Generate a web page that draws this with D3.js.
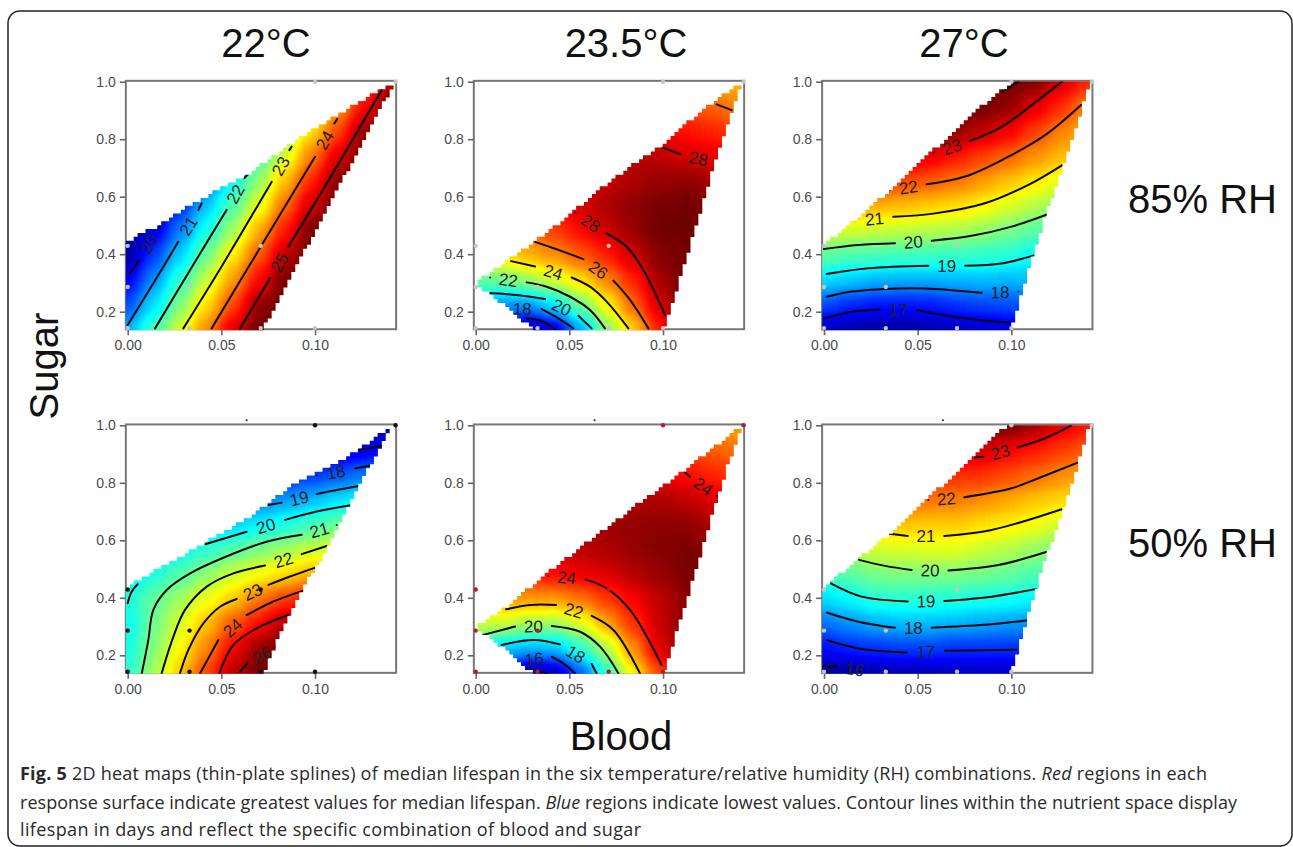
<!DOCTYPE html>
<html>
<head>
<meta charset="utf-8">
<script src="https://cdn.jsdelivr.net/npm/d3@7"></script>
<style>
  html, body { margin: 0; padding: 0; background: #fff; }
  svg { display: block; }
</style>
</head>
<body>
<div id="chart"></div>
<script>
// Axis ticks and the nodes of the value grid behind each heat map
const bloodTicks = [0, 0.05, 0.10];
const sugarTicks = [0.2, 0.4, 0.6, 0.8, 1.0];
const gridBlood = [0, 0.014, 0.028, 0.042, 0.056, 0.07, 0.084, 0.098, 0.112, 0.126, 0.14];
const gridSugar = [0.14, 0.226, 0.312, 0.398, 0.484, 0.57, 0.656, 0.742, 0.828, 0.914, 1.0];

const tempLabels = ['22°C', '23.5°C', '27°C'];
const humidityLabels = ['85% RH', '50% RH'];

// Diet treatments (blood, sugar)
const sampleBlood = [0, 0, 0, 0.033, 0.033, 0.071, 0.071, 0.1, 0.1, 0.143];
const sampleSugar = [0.143, 0.286, 0.429, 0.286, 0.143, 0.429, 0.143, 0.143, 1, 1];

// Colour range (days) of each panel
const range22_85 = [19.4, 25.4];
const range23_85 = [14.9, 29.3];
const range27_85 = [16.3, 23.7];
const range22_50 = [16.2, 26.3];
const range23_50 = [14.3, 25.6];
const range27_50 = [15.8, 24.0];

// Outline of the nutrient space in each panel
const hull22_85 = [[0,.139],[0,.44],[.0039,.464],[.0155,.496],[.0315,.565],[.0422,.602],[.0635,.675],[.0902,.797],[.1116,.884],[.1425,1],[.072,.139]];
const hull23_85 = [[0,.299],[.0183,.386],[.0326,.449],[.0521,.548],[.0735,.664],[.0984,.774],[.1197,.896],[.142,.997],[.1349,.867],[.1269,.704],[.118,.507],[.1082,.299],[.1002,.139],[.0308,.139],[.0139,.229]];
const hull27_85 = [[0,.139],[0,.432],[.0165,.519],[.0343,.617],[.0504,.722],[.0681,.815],[.0859,.925],[.102,1.003],[.142,1.003],[.1358,.867],[.1269,.693],[.118,.531],[.1091,.345],[.102,.183],[.0998,.139]];
const hull22_50 = [[0,.137],[0,.439],[.0101,.479],[.0315,.555],[.0422,.595],[.0653,.682],[.0884,.792],[.1044,.845],[.1222,.908],[.1409,.998],[.1222,.775],[.1062,.566],[.0938,.439],[.0813,.277],[.0724,.137]];
const hull23_50 = [[0,.297],[.0165,.369],[.0379,.485],[.061,.601],[.0859,.723],[.1091,.833],[.142,.998],[.1349,.868],[.1269,.706],[.118,.508],[.1082,.3],[.1002,.137],[.0308,.137],[.013,.236]];
const hull27_50 = [[0,.137],[0,.433],[.0174,.532],[.0343,.619],[.0504,.723],[.0681,.816],[.0859,.932],[.0984,1.003],[.1415,1.003],[.1358,.868],[.1269,.694],[.118,.532],[.1091,.346],[.102,.184],[.0998,.137]];

// Median lifespan, one row per gridSugar value
const surface22_85 = [
  [21.1,22.0,22.9,23.8,24.8,25.7,26,26,26,26,26],
  [20.5,21.4,22.4,23.3,24.2,25.2,26,26,26,26,26],
  [20.0,20.9,21.9,22.8,23.7,24.6,25.6,26,26,26,26],
  [19.5,20.4,21.3,22.3,23.2,24.1,25.0,26,26,26,26],
  [18.9,19.9,20.8,21.7,22.6,23.6,24.5,25.4,26,26,26],
  [18.4,19.3,20.3,21.2,22.1,23.0,24.0,24.9,25.8,26,26],
  [17.9,18.8,19.8,20.7,21.6,22.5,23.5,24.4,25.3,26,26],
  [17.4,18.3,19.2,20.2,21.1,22.0,22.9,23.9,24.8,25.7,26],
  [16.8,17.8,18.7,19.6,20.5,21.5,22.4,23.3,24.2,25.2,26],
  [16.3,17.2,18.2,19.1,20.0,20.9,21.9,22.8,23.7,24.6,25.6],
  [15.8,16.7,17.6,18.6,19.5,20.4,21.3,22.3,23.2,24.1,25.0]
];
const surface23_85 = [
  [19,17,15,15.9,18.8,22.2,24.5,27.1,29,29.5,29.5],
  [20,18.5,18.6,19.8,21.9,23.9,26,28,29.3,29.5,29.5],
  [21.5,21.9,22.5,23.3,24.3,25.6,27,28.6,29.5,29.5,29.5],
  [23.2,24.3,24.9,25.4,26.2,27,28.1,29,29.4,29.5,29.5],
  [24.5,25.2,25.9,26.6,27.3,28.1,28.8,29.3,29.5,29.3,29],
  [26,26.5,27,27.5,28,28.5,28.9,29.2,29.3,29,28.8],
  [26.5,26.7,27,27.3,27.8,28.2,28.5,28.8,28.9,28.7,28.4],
  [26.5,26.8,27,27.3,27.6,28,28.4,28.3,28,27.7,27.4],
  [26.5,26.7,27,27.2,27.4,27.6,27.8,27.6,27.2,27,26.6],
  [26,26.2,26.4,26.5,26.6,26.7,26.8,26.6,26.3,26.1,25.6],
  [25,25,25,25,25,25.2,25.4,25.4,25.2,25.1,24.9]
];
const surface27_85 = [
  [16.6,16.5,16.4,16.4,16.5,16.6,16.7,16.8,17,17.2,17.4],
  [17.65,17.4,17.25,17.25,17.3,17.5,17.6,17.7,17.8,18,18.2],
  [18.75,18.6,18.45,18.4,18.4,18.45,18.5,18.45,18.5,18.6,18.7],
  [19.75,19.6,19.55,19.5,19.45,19.42,19.37,19.25,19.03,18.9,18.8],
  [20.6,20.6,20.5,20.45,20.4,20.3,20.15,19.95,19.7,19.5,19.3],
  [21.6,21.55,21.45,21.38,21.27,21.14,20.95,20.65,20.4,20.13,19.9],
  [23,22.8,22.5,22.25,22.1,21.9,21.65,21.35,21.05,20.7,20.5],
  [23.7,23.5,23.3,23.1,22.9,22.6,22.3,22.05,21.7,21.4,21.2],
  [24.5,24.4,24.2,24,23.7,23.5,23.15,22.8,22.3,21.8,21.4],
  [24.5,24.5,24.5,24.5,24.4,24.2,23.9,23.5,22.95,22.45,21.8],
  [24.5,24.5,24.5,24.5,24.5,24.5,24.5,24.2,23.6,23.05,22.5]
];
const surface22_50 = [
  [20.3,21.6,23,24.3,25.65,26.5,26.5,26.5,26.5,26.5,26.5],
  [20.1,21.3,22.5,23.7,25.05,26,26.5,26.5,26.5,26.5,26.5],
  [19.9,21.1,22.05,23.1,24.15,24.9,25.7,26.2,26.5,26.5,26.5],
  [20.15,20.9,21.6,22.3,22.95,23.85,24.4,24.9,25.4,25.8,26],
  [19.6,20.2,20.8,21.4,22,22.4,22.8,23.2,23.5,23.9,24.2],
  [19,19.4,19.85,20.35,20.8,21.2,21.6,21.95,22.3,22.6,22.9],
  [18.3,18.5,18.75,19,19.4,19.75,20.15,20.6,21,21.4,21.8],
  [17.4,17.6,17.8,18,18.2,18.5,18.85,19.15,19.55,19.9,20.3],
  [16.4,16.5,16.6,16.8,17,17.3,17.6,17.9,18.2,18.55,18.85],
  [16.2,16.2,16.2,16.2,16.2,16.2,16.4,16.6,16.8,17.1,17.35],
  [16,16,16,16,16,16,16,16,16.2,16.4,16.6]
];
const surface23_50 = [
  [18,16,14,14.7,16.5,18.9,21.4,23.4,25,25.5,25.5],
  [19,17.8,17.6,17.7,18.9,20.5,22.6,24.5,25.3,25.5,25.5],
  [20.7,20.8,20.35,20.3,20.95,22.3,23.6,24.7,25.4,25.6,25.5],
  [22.2,22.4,22.4,22.4,22.85,23.5,24.2,24.8,25.3,25.6,25.5],
  [23,23.5,23.8,24.1,24.3,24.5,24.9,25.2,25.5,25.6,25.4],
  [23.7,24,24.3,24.6,24.8,25,25.2,25.4,25.5,25.3,25],
  [24.3,24.5,24.7,24.9,25,25.1,25.2,25.3,25.3,25,24.7],
  [24.4,24.5,24.6,24.7,24.8,24.9,24.9,25,24.8,24.5,24.2],
  [24.4,24.4,24.4,24.4,24.4,24.5,24.5,24.4,24.05,23.8,23.5],
  [23.8,23.8,23.8,23.8,23.8,23.8,23.8,23.6,23.4,23.1,22.9],
  [22.6,22.6,22.6,22.6,22.6,22.6,22.6,22.6,22.5,22.4,22.3]
];
const surface27_50 = [
  [15.6,15.85,16,16.1,16.1,16.2,16.2,16.2,16.3,16.4,16.5],
  [16.75,17,17.1,17.18,17.2,17.1,17.1,17.08,17.05,17,17],
  [17.6,17.9,18.1,18.2,18.2,18.15,18.05,17.95,17.9,17.8,17.7],
  [18.5,18.75,19.1,19.15,19.1,19.05,18.95,18.9,18.7,18.6,18.5],
  [19.3,19.6,19.85,19.9,19.9,19.9,19.8,19.65,19.45,19.2,19],
  [20.2,20.35,20.55,20.6,20.65,20.65,20.5,20.35,20.1,19.9,19.7],
  [21.2,21.3,21.35,21.35,21.3,21.3,21.15,21,20.8,20.55,20.3],
  [22.1,22.2,22.2,22.1,22,21.95,21.8,21.6,21.35,21.2,20.9],
  [23,23,22.9,22.8,22.7,22.6,22.55,22.35,22.1,21.8,21.6],
  [23.8,23.8,23.8,23.7,23.6,23.4,23.25,22.95,22.75,22.5,22.2],
  [24.2,24.2,24.2,24.2,24.2,24.2,24.2,24,23.6,23.1,22.8]
];

// Contours: [level, part before the label, part after the label].
// A contour with one part carries no label.
const contours22_85 = [
  [20, [[.0012,.333],[.0062,.38]], [[.0164,.49],[.0173,.496]]],
  [21, [[0,.154],[.0137,.299],[.027,.443]], [[.0377,.554],[.0395,.577]]],
  [22, [[.0146,.142],[.0333,.345],[.0528,.554]], [[.0621,.664],[.0644,.679]]],
  [23, [[.0297,.142],[.0511,.368],[.0769,.652]], [[.0863,.762],[.0875,.774]]],
  [24, [[.0448,.142],[.0689,.403],[.1,.739]], [[.1103,.855],[.1119,.87]]],
  [25, [[.06,.142],[.076,.316]], [[.0858,.426],[.1116,.704],[.1356,.971]]]
];
const contours23_85 = [
  [16, [[.0272,.177],[.0361,.165],[.0423,.139]]],
  [18, [[.0145,.212]], [[.0352,.209],[.0441,.177],[.0521,.142]]],
  [20, [[.005,.266],[.0219,.258],[.037,.244]], [[.0548,.186],[.0619,.142]]],
  [22, [[.0077,.319]], [[.0272,.302],[.0379,.287],[.0504,.252],[.061,.206],[.069,.142]]],
  [24, [[.0189,.376],[.0317,.357]], [[.0512,.319],[.061,.287],[.0699,.235],[.0815,.142]]],
  [26, [[.0317,.443],[.0432,.417],[.0575,.383]], [[.0735,.308],[.0824,.241],[.0922,.142]]],
  [28, [[.053,.544]], [[.0699,.472],[.0806,.426],[.0895,.345],[.1011,.188]]],
  [28, [[.0993,.772],[.1091,.748]], [[.1286,.718]]],
  [26, [[.1286,.921],[.1367,.901]]]
];
const contours27_85 = [
  [17, [[0,.177],[.0148,.2],[.0299,.208]], [[.0495,.206],[.0681,.183],[.0859,.169],[.0993,.162]]],
  [18, [[.0014,.252],[.0148,.27],[.0397,.281],[.0539,.281],[.0681,.275],[.0842,.266]], [[.1037,.27]]],
  [19, [[.0014,.331],[.0237,.351],[.0557,.36]], [[.0753,.36],[.0948,.368],[.1117,.395]]],
  [20, [[0,.418],[.0183,.432],[.0379,.438]], [[.0575,.447],[.0788,.464],[.1002,.496],[.1194,.539]]],
  [21, [[.0169,.517]], [[.037,.53],[.0593,.542],[.0859,.577],[.1091,.641],[.1272,.71]]],
  [22, [[.0352,.623]], [[.0548,.643],[.0753,.67],[.0966,.733],[.118,.814],[.1372,.919]]],
  [23, [[.0587,.754]], [[.0779,.794],[.0948,.843],[.1144,.936],[.1269,1.0]]],
  [24, [[.0952,.965],[.1037,1.0]]]
];
const contours22_50 = [
  [17, [[.1222,.914],[.1356,.928]]],
  [18, [[.1009,.825]], [[.1214,.85],[.1294,.86]]],
  [19, [[.0751,.723],[.0822,.731]], [[.1009,.761],[.1116,.775],[.124,.79]]],
  [20, [[.0413,.586],[.0635,.63]], [[.084,.671],[.1009,.70],[.1183,.721]]],
  [20, [[0,.381],[.0021,.421],[.0053,.447]]],
  [21, [[.0075,.137],[.011,.253],[.0137,.358],[.0208,.427],[.0333,.485],[.0546,.549],[.0742,.595],[.0929,.619]], [[.1116,.653]]],
  [22, [[.0181,.137],[.0244,.265],[.0306,.358],[.0422,.439],[.0564,.485],[.0733,.512]], [[.0929,.552],[.1062,.58]]],
  [23, [[.0279,.137],[.0324,.219],[.0404,.311],[.0493,.369],[.0582,.396]], [[.0751,.445],[.0867,.474],[.1005,.506]]],
  [24, [[.0386,.137],[.0484,.253]], [[.0635,.34],[.0778,.387],[.0938,.425]]],
  [25, [[.0489,.137],[.0564,.236],[.0689,.294],[.0858,.34]]],
  [26, [[.06,.143],[.0639,.172]], [[.0792,.23]]]
];
const contours23_50 = [
  [14, [[.0308,.149],[.0379,.137]]],
  [16, [[.0219,.18]], [[.0406,.195],[.0468,.172],[.053,.137]]],
  [18, [[.0139,.236],[.0308,.253],[.045,.238]], [[.0619,.17],[.0646,.137]]],
  [20, [[.0041,.271],[.021,.30]], [[.0406,.302],[.0557,.282],[.0664,.23],[.0762,.137]]],
  [22, [[.0162,.36],[.029,.375],[.0429,.375]], [[.0619,.337],[.0735,.288],[.0877,.137]]],
  [24, [[.0388,.477]], [[.0584,.464],[.0699,.433],[.0824,.358],[.0993,.166]]],
  [24, [[.1112,.839],[.1144,.821]], [[.1286,.754]]]
];
const contours27_50 = [
  [16, [[0,.161],[.0068,.161]], [[.0258,.143]]],
  [17, [[.0014,.253],[.0183,.224],[.0441,.21]], [[.0646,.216],[.1028,.219]]],
  [18, [[.0014,.349],[.0183,.317],[.0379,.296]], [[.0575,.296],[.0859,.306],[.1082,.321]]],
  [19, [[.0036,.45],[.0201,.404],[.0447,.387]], [[.0642,.389],[.0895,.404],[.1135,.431]]],
  [20, [[.0187,.532],[.0326,.511],[.0468,.497]], [[.0664,.495],[.0931,.514],[.1194,.561]]],
  [21, [[.0343,.624],[.0447,.615]], [[.0642,.615],[.0895,.636],[.1269,.708]]],
  [22, [[.0557,.74]], [[.0749,.75],[.1002,.781],[.1144,.816],[.1354,.87]]],
  [23, [[.0806,.888],[.0851,.891]], [[.1032,.923],[.118,.955],[.1319,.999]]]
];

const captionLines = [
  [['Fig. 5', 'bold'], [' 2D heat maps (thin-plate splines) of median lifespan in the six temperature/relative humidity (RH) combinations. ', ''], ['Red', 'italic'], [' regions in each', '']],
  [['response surface indicate greatest values for median lifespan. ', ''], ['Blue', 'italic'], [' regions indicate lowest values. Contour lines within the nutrient space display', '']],
  [['lifespan in days and reflect the specific combination of blood and sugar', '']]
];
const captionWidths = [1187, 1217, 621];

const width = 1293;
const height = 847;
const colOrigin = [127.7, 475.7, 824];
const rowTop = [81.7, 425.3];
const pxPerBlood = 1873.3;
const pxPerSugar = 287.5;

const panels = [
  { col: 0, row: 0, range: range22_85, hull: hull22_85, surface: surface22_85, contours: contours22_85, dot: '#c4c4c4' },
  { col: 1, row: 0, range: range23_85, hull: hull23_85, surface: surface23_85, contours: contours23_85, dot: '#c4c4c4' },
  { col: 2, row: 0, range: range27_85, hull: hull27_85, surface: surface27_85, contours: contours27_85, dot: '#c4c4c4' },
  { col: 0, row: 1, range: range22_50, hull: hull22_50, surface: surface22_50, contours: contours22_50, dot: '#111' },
  { col: 1, row: 1, range: range23_50, hull: hull23_50, surface: surface23_50, contours: contours23_50, dot: '#b02020' },
  { col: 2, row: 1, range: range27_50, hull: hull27_50, surface: surface27_50, contours: contours27_50, dot: '#c4c4c4' }
];

const jetStops = [0, 0.11, 0.36, 0.5, 0.62, 0.87, 1];
const jetColors = ['#000090', '#0000ff', '#00ffff', '#7fff7f', '#ffff00', '#ff0000', '#700000'];
const jet = d3.scaleLinear().domain(jetStops).range(jetColors);

const svg = d3.select('#chart').append('svg')
  .attr('width', width)
  .attr('height', height);

svg.append('rect')
  .attr('x', 8).attr('y', 11)
  .attr('width', 1284).attr('height', 835)
  .attr('rx', 12)
  .attr('fill', '#fff')
  .attr('stroke', '#222')
  .attr('stroke-width', 1.5);

const defs = svg.append('defs');

// Cells are drawn as grey levels, smoothed, then mapped to the colour ramp,
// so the smoothing happens on the values and not on the colours
const smooth = defs.append('filter')
  .attr('id', 'smooth')
  .attr('filterUnits', 'userSpaceOnUse')
  .attr('x', 0).attr('y', 0)
  .attr('width', width).attr('height', height)
  .attr('color-interpolation-filters', 'sRGB');
smooth.append('feGaussianBlur').attr('stdDeviation', 8);
const ramp = d3.range(0, 129).map(i => d3.rgb(jet(i / 128)));
const transfer = smooth.append('feComponentTransfer');
[['feFuncR', 'r'], ['feFuncG', 'g'], ['feFuncB', 'b']].forEach(([fn, ch]) => {
  transfer.append(fn)
    .attr('type', 'table')
    .attr('tableValues', ramp.map(c => (c[ch] / 255).toFixed(3)).join(' '));
});

const line = d3.line().curve(d3.curveCatmullRom);

panels.forEach((p, idx) => drawPanel(p, idx));

// Outline of the nutrient space as blocks, the way the image plot shows it
function stairPath(hull, x, y) {
  const stepB = 0.0021;
  const stepS = 0.0135;
  let d = '';
  for (let b = -0.001; b < 0.145; b += stepB) {
    for (let s = 0.1365; s < 1.01; s += stepS) {
      if (d3.polygonContains(hull, [b + stepB / 2, s + stepS / 2])) {
        const x0 = x(b), y1 = y(s + stepS);
        d += `M${x0},${y1}h${x(b + stepB) - x0 + 0.3}v${y(s) - y1 + 0.3}h${x0 - x(b + stepB) - 0.3}z`;
      }
    }
  }
  return d;
}

function cellEdges(arr, i, scale, pad) {
  const lo = i === 0 ? scale(arr[0]) - pad : (scale(arr[i - 1]) + scale(arr[i])) / 2;
  const hi = i === arr.length - 1 ? scale(arr[i]) + pad : (scale(arr[i]) + scale(arr[i + 1])) / 2;
  return [Math.min(lo, hi), Math.max(lo, hi)];
}

function drawPanel(p, idx) {
  const ox = colOrigin[p.col];
  const top = rowTop[p.row];
  const x = d3.scaleLinear().domain([0, 0.14]).range([ox, ox + 0.14 * pxPerBlood]);
  const y = d3.scaleLinear().domain([1, 0.2]).range([top, top + 0.8 * pxPerSugar]);
  const level = d3.scaleLinear().domain(p.range).range([0, 255]).clamp(true);

  const g = svg.append('g');

  // Frame
  g.append('rect')
    .attr('x', x(-0.001)).attr('y', y(1.003))
    .attr('width', x(0.1433) - x(-0.001))
    .attr('height', y(0.139) - y(1.003))
    .attr('fill', 'none')
    .attr('stroke', '#777')
    .attr('stroke-width', 2);

  // Axes
  const xAxis = g.append('g')
    .attr('transform', `translate(0,${y(0.139)})`)
    .call(d3.axisBottom(x).tickValues(bloodTicks).tickFormat(d3.format('.2f')).tickSize(6).tickPadding(5));
  const yAxis = g.append('g')
    .attr('transform', `translate(${x(-0.001)},0)`)
    .call(d3.axisLeft(y).tickValues(sugarTicks).tickFormat(d3.format('.1f')).tickSize(6).tickPadding(4));
  [xAxis, yAxis].forEach(a => {
    a.select('.domain').remove();
    a.selectAll('line').attr('stroke', '#666').attr('stroke-width', 1.6);
    a.selectAll('text')
      .attr('fill', '#4a4a4a')
      .attr('font-family', '"Liberation Sans", Arial, sans-serif')
      .attr('font-size', 14);
  });

  // Heat map cells, clipped to the nutrient space
  const clipId = `hull-${idx}`;
  defs.append('clipPath').attr('id', clipId)
    .append('path').attr('d', stairPath(p.hull, x, y));

  const heat = g.append('g').attr('clip-path', `url(#${clipId})`)
    .append('g').attr('filter', 'url(#smooth)');

  const cells = [];
  p.surface.forEach((values, j) => values.forEach((v, i) => cells.push({ i, j, v })));
  heat.selectAll('rect')
    .data(cells)
    .enter()
    .append('rect')
    .attr('x', d => cellEdges(gridBlood, d.i, x, 40)[0])
    .attr('width', d => { const e = cellEdges(gridBlood, d.i, x, 40); return e[1] - e[0] + 0.5; })
    .attr('y', d => cellEdges(gridSugar, d.j, y, -40)[0])
    .attr('height', d => { const e = cellEdges(gridSugar, d.j, y, -40); return e[1] - e[0] + 0.5; })
    .attr('fill', d => { const l = Math.round(level(d.v)); return `rgb(${l},${l},${l})`; });

  // Contour lines
  const lines = g.append('g').attr('clip-path', `url(#${clipId})`);
  p.contours.forEach(c => {
    c.slice(1).forEach(part => {
      lines.append('path')
        .attr('d', line(part.map(q => [x(q[0]), y(q[1])])))
        .attr('fill', 'none')
        .attr('stroke', '#0a0a0a')
        .attr('stroke-width', 2)
        .attr('stroke-linecap', 'round');
    });
    if (c.length < 3) return;
    // The label sits in the gap between the two parts, along its direction
    const a = c[1][c[1].length - 1];
    const b = c[2][0];
    const ax = x(a[0]), ay = y(a[1]), bx = x(b[0]), by = y(b[1]);
    let angle = Math.atan2(by - ay, bx - ax) * 180 / Math.PI;
    if (angle > 90) angle -= 180;
    if (angle < -90) angle += 180;
    g.append('text')
      .attr('transform', `translate(${(ax + bx) / 2},${(ay + by) / 2}) rotate(${angle})`)
      .attr('text-anchor', 'middle')
      .attr('dy', '0.36em')
      .attr('font-family', '"Liberation Sans", Arial, sans-serif')
      .attr('font-size', 17)
      .attr('fill', '#222')
      .text(c[0]);
  });

  // Treatment points
  g.append('g').selectAll('circle')
    .data(sampleBlood)
    .enter()
    .append('circle')
    .attr('cx', d => x(d))
    .attr('cy', (d, i) => y(sampleSugar[i]))
    .attr('r', 2.2)
    .attr('fill', p.dot);

  // Stray point above the lower panels
  if (p.row === 1) {
    g.append('circle')
      .attr('cx', x(0.0635))
      .attr('cy', y(1.018))
      .attr('r', 1)
      .attr('fill', '#222');
  }
}

const sansBig = '"Liberation Sans", Arial, sans-serif';

// Column and row headings
svg.selectAll('text.temp')
  .data(tempLabels)
  .enter()
  .append('text')
  .attr('class', 'temp')
  .attr('x', (d, i) => [266, 626, 964][i])
  .attr('y', 57)
  .attr('text-anchor', 'middle')
  .attr('font-family', sansBig)
  .attr('font-size', 40)
  .attr('fill', '#111')
  .text(d => d);

svg.selectAll('text.rh')
  .data(humidityLabels)
  .enter()
  .append('text')
  .attr('class', 'rh')
  .attr('x', 1128)
  .attr('y', (d, i) => [213, 557][i])
  .attr('font-family', sansBig)
  .attr('font-size', 40)
  .attr('fill', '#111')
  .text(d => d);

svg.append('text')
  .attr('transform', 'translate(58,366) rotate(-90)')
  .attr('text-anchor', 'middle')
  .attr('font-family', sansBig)
  .attr('font-size', 40)
  .attr('fill', '#111')
  .text('Sugar');

svg.append('text')
  .attr('x', 621)
  .attr('y', 750)
  .attr('text-anchor', 'middle')
  .attr('font-family', sansBig)
  .attr('font-size', 40)
  .attr('fill', '#111')
  .text('Blood');

// Caption
captionLines.forEach((runs, i) => {
  const t = svg.append('text')
    .attr('x', 20)
    .attr('y', [780, 809, 836][i])
    .attr('font-family', '"Open Sans", sans-serif')
    .attr('font-size', 18)
    .attr('fill', '#2a2a2a')
    .attr('textLength', captionWidths[i])
    .attr('lengthAdjust', 'spacing');
  runs.forEach(r => {
    const s = t.append('tspan').style('white-space', 'pre').text(r[0]);
    if (r[1] === 'bold') s.attr('font-weight', 700);
    if (r[1] === 'italic') s.attr('font-style', 'italic');
  });
});
</script>
</body>
</html>
